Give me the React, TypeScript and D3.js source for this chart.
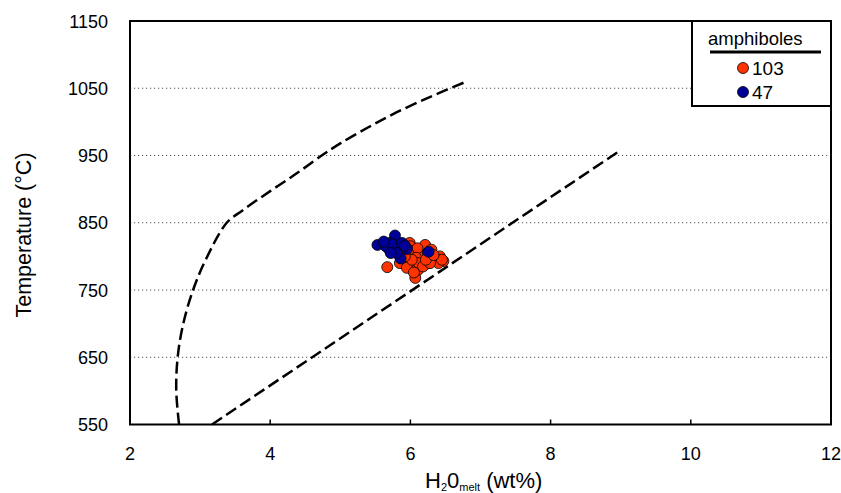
import React from "react"
import { scaleLinear, line, curveCatmullRom } from "d3"

/** axis ticks */
const xTicks = [2, 4, 6, 8, 10, 12]
const yTicks = [550, 650, 750, 850, 950, 1050, 1150]
const gridTicks = [650, 750, 850, 950, 1050]

/** amphibole analyses, H2O melt (wt%) vs T (°C) */
const redX = [5.67, 6.07, 5.99, 6.21, 6.14, 6.42, 6.47, 6.38, 6.11, 6.04, 6.21, 6.30, 5.85, 5.95, 6.0, 6.05, 6.1, 5.97, 6.15, 6.2, 6.25, 6.3, 6.08, 6.12, 6.18, 6.02, 5.92, 6.35, 6.4, 6.45, 6.28, 6.05, 5.9, 6.22, 6.33]
const redT = [784, 768, 820, 817, 803, 800, 793, 793, 780, 788, 788, 795, 790, 783, 815, 808, 812, 805, 795, 800, 805, 810, 798, 790, 785, 795, 800, 797, 790, 795, 790, 776, 812, 795, 802]
const blueX = [5.53, 5.78, 5.71, 5.70, 5.83, 5.95, 5.86, 6.26, 5.65, 5.75, 5.88, 5.80, 5.62, 5.92, 5.72]
const blueT = [817, 831, 820, 810, 812, 811, 797, 807, 815, 818, 820, 805, 822, 816, 805]

/** dashed boundary curves */
const curveX = [2.70, 2.66, 2.68, 2.76, 2.90, 3.08, 3.38, 3.6, 4.0, 4.4, 4.75, 5.0, 5.4, 5.8, 6.3, 6.8]
const curveT = [550, 600, 650, 700, 750, 795, 850, 868, 897, 925, 951, 968, 992, 1014, 1038, 1060]
const lineX = [3.17, 9.0]
const lineT = [550, 958]

const legendLabels = ["103", "47"]
const colors = ["#ff3300", "#000099"]

export default function App() {
	const width = 841
	const height = 493
	const left = 130
	const right = 831
	const top = 21
	const bottom = 424.5

	const x = scaleLinear().domain([2, 12]).range([left, right])
	const y = scaleLinear().domain([550, 1150]).range([bottom, top])

	const curvePath = line<number>()
		.x((_, i) => x(curveX[i]))
		.y(d => y(d))
		.curve(curveCatmullRom.alpha(0.5))(curveT)
	const straightPath = line<number>()
		.x((_, i) => x(lineX[i]))
		.y(d => y(d))(lineT)

	const font = "Liberation Sans, Arial, sans-serif"

	return (
		<div style={{ position: "absolute", left: 0, top: 0 }}>
			<svg width={width} height={height} fontFamily={font} style={{ display: "block", background: "#fff" }}>
				{/* grid */}
				{gridTicks.map(t => (
					<line key={t} x1={left} x2={right} y1={y(t)} y2={y(t)} stroke="#555" strokeWidth={1} strokeDasharray="1.2,2.8" />
				))}

				{/* boundaries */}
				<path d={curvePath ?? ""} fill="none" stroke="#000" strokeWidth={2.5} strokeDasharray="12,5" />
				<path d={straightPath ?? ""} fill="none" stroke="#000" strokeWidth={2.5} strokeDasharray="12,5" />

				{/* points */}
				{redX.map((v, i) => (
					<circle key={"r" + i} cx={x(v)} cy={y(redT[i])} r={5.5} fill={colors[0]} stroke="#000" strokeWidth={0.8} />
				))}
				{blueX.map((v, i) => (
					<circle key={"b" + i} cx={x(v)} cy={y(blueT[i])} r={5.5} fill={colors[1]} stroke="#000" strokeWidth={0.8} />
				))}

				{/* frame and ticks */}
				<rect x={left} y={top} width={right - left} height={bottom - top} fill="none" stroke="#000" strokeWidth={2} />
				{xTicks.slice(1, -1).map(t => (
					<line key={t} x1={x(t)} x2={x(t)} y1={bottom} y2={bottom - 5} stroke="#000" strokeWidth={1.5} />
				))}

				{/* tick labels */}
				{xTicks.map(t => (
					<text key={t} x={x(t)} y={460} textAnchor="middle" fontSize={18}>{t}</text>
				))}
				{yTicks.map(t => (
					<text key={t} x={108} y={y(t) + 6.5} textAnchor="end" fontSize={18}>{t}</text>
				))}

				{/* axis titles */}
				<text transform="translate(31, 235) rotate(-90)" textAnchor="middle" fontSize={21.5}>Temperature (°C)</text>
				<text x={425} y={488} fontSize={22}>
					H<tspan fontSize={11} dy={3}>2</tspan><tspan dy={-3}>0</tspan><tspan fontSize={11} dy={3}>melt</tspan><tspan dy={-3}> (wt%)</tspan>
				</text>

				{/* legend */}
				<rect x={692} y={top} width={right - 692} height={85} fill="#fff" stroke="#000" strokeWidth={2} />
				<text x={708} y={45} fontSize={18.5}>amphiboles</text>
				<line x1={710} x2={821} y1={52} y2={52} stroke="#000" strokeWidth={3} />
				{legendLabels.map((l, i) => (
					<g key={l} transform={`translate(743, ${68 + i * 24})`}>
						<circle r={5.5} fill={colors[i]} stroke="#000" strokeWidth={0.8} />
						<text x={9} y={7} fontSize={19}>{l}</text>
					</g>
				))}
			</svg>
		</div>
	)
}
